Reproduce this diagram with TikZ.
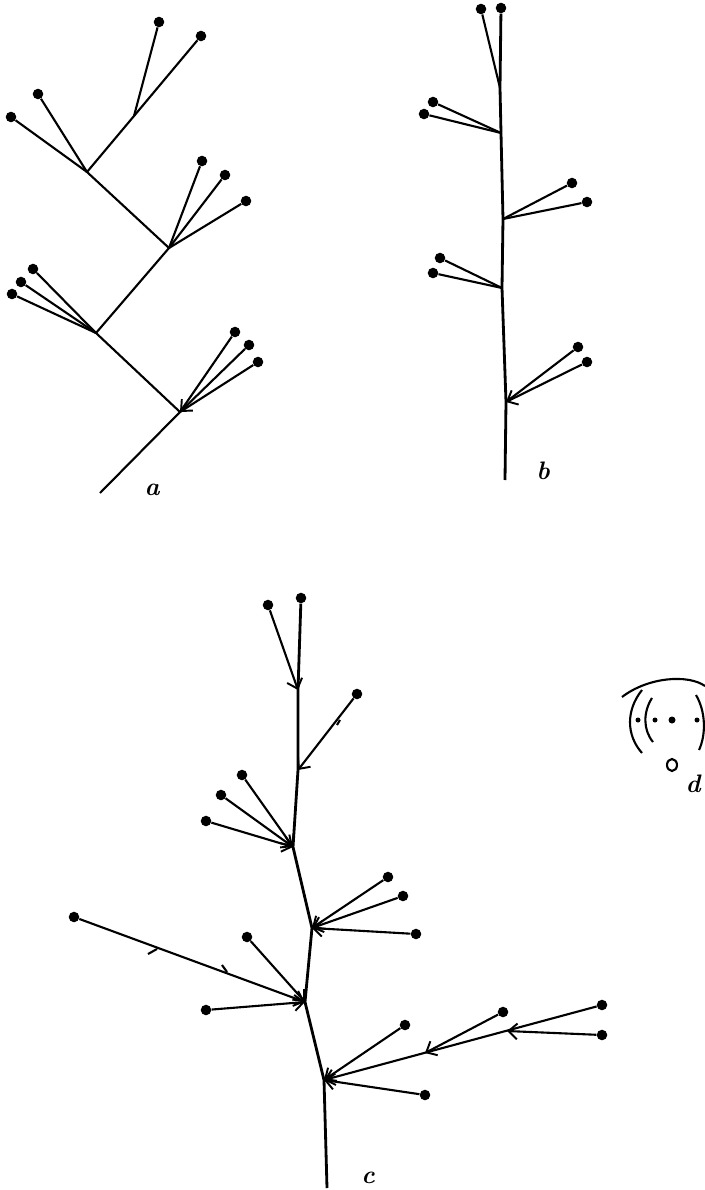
\documentclass[tikz,border=0pt]{standalone}
\usetikzlibrary{arrows.meta}
\tikzset{
  bud/.style={circle,fill,inner sep=0pt,minimum size=6pt},
  twig/.style={line width=1.2pt},
  stalk/.style={line width=1.6pt},
  barb/.style={twig,-{Straight Barb[length=5pt,width=9pt,line width=1.1pt]}},
  letter/.style={font=\Large\bfseries\itshape},
}
\begin{document}
\begin{tikzpicture}[x=0.02cm,y=-0.02cm]
    \useasboundingbox (0,0) rectangle (705,1190);
    % a
    \coordinate (a0) at (100,493);
    \coordinate (a1) at (180,412);
    \coordinate (a2) at (96,333);
    \coordinate (a3) at (169,248);
    \coordinate (a4) at (87,172);
    \coordinate (a5) at (134,116);
    \node[bud] (a51) at (159,22) {};
    \node[bud] (a52) at (201,36) {};
    \node[bud] (a41) at (38,94) {};
    \node[bud] (a42) at (11,117) {};
    \node[bud] (a31) at (202,161) {};
    \node[bud] (a32) at (225,175) {};
    \node[bud] (a33) at (246,201) {};
    \node[bud] (a21) at (33,269) {};
    \node[bud] (a22) at (21,282) {};
    \node[bud] (a23) at (12,294) {};
    \node[bud] (a11) at (235,332) {};
    \node[bud] (a12) at (249,345) {};
    \node[bud] (a13) at (258,362) {};
    \draw[twig] (a0) -- (a1) -- (a2) -- (a3) -- (a4) -- (a5) -- (a52);
    \draw[twig] (a51) -- (a5);
    \draw[twig] (a41) -- (a4);
    \draw[twig] (a42) -- (a4);
    \draw[twig] (a31) -- (a3);
    \draw[twig] (a32) -- (a3);
    \draw[twig] (a33) -- (a3);
    \draw[twig] (a21) -- (a2);
    \draw[twig] (a22) -- (a2);
    \draw[twig] (a23) -- (a2);
    \draw[twig] (a11) -- (a1);
    \draw[barb] (a12) -- (a1);
    \draw[twig] (a13) -- (a1);
    \node[letter] (la) at (152,490) {a};
    % b
    \coordinate (b0) at (505,480);
    \coordinate (b1) at (506,402);
    \coordinate (b2) at (502,288);
    \coordinate (b3) at (503,219);
    \coordinate (b4) at (501,133);
    \coordinate (b5) at (500,88);
    \node[bud] (b6) at (501,8) {};
    \node[bud] (b51) at (481,9) {};
    \node[bud] (b41) at (433,102) {};
    \node[bud] (b42) at (424,114) {};
    \node[bud] (b31) at (572,183) {};
    \node[bud] (b32) at (587,202) {};
    \node[bud] (b21) at (440,258) {};
    \node[bud] (b22) at (433,273) {};
    \node[bud] (b11) at (578,347) {};
    \node[bud] (b12) at (587,362) {};
    \draw[stalk] (b0) -- (b1) -- (b2) -- (b3) -- (b4) -- (b5) -- (b6);
    \draw[twig] (b51) -- (b5);
    \draw[twig] (b41) -- (b4);
    \draw[twig] (b42) -- (b4);
    \draw[twig] (b31) -- (b3);
    \draw[twig] (b32) -- (b3);
    \draw[twig] (b21) -- (b2);
    \draw[twig] (b22) -- (b2);
    \draw[twig] (b11) -- (b1);
    \draw[barb] (b12) -- (b1);
    \node[letter] (lb) at (543,471) {b};
    % c
    \coordinate (c0) at (327,1188);
    \coordinate (c1) at (324,1080);
    \coordinate (c2) at (305,1002);
    \coordinate (c3) at (312,928);
    \coordinate (c4) at (293,847);
    \coordinate (c5) at (298,770);
    \coordinate (c6) at (298,690);
    \coordinate (k1) at (507,1031);
    \coordinate (k2) at (425,1053);
    \node[bud] (c7) at (301,598) {};
    \node[bud] (c61) at (268,605) {};
    \node[bud] (c51) at (357,694) {};
    \node[bud] (c41) at (242,775) {};
    \node[bud] (c42) at (221,795) {};
    \node[bud] (c43) at (206,821) {};
    \node[bud] (c31) at (388,877) {};
    \node[bud] (c32) at (403,896) {};
    \node[bud] (c33) at (416,934) {};
    \node[bud] (c21) at (74,917) {};
    \node[bud] (c22) at (247,937) {};
    \node[bud] (c23) at (206,1010) {};
    \node[bud] (c11) at (405,1025) {};
    \node[bud] (c12) at (602,1005) {};
    \node[bud] (c13) at (425,1095) {};
    \node[bud] (c121) at (602,1035) {};
    \node[bud] (c122) at (503,1012) {};
    \draw[stalk] (c0) -- (c1) -- (c2) -- (c3) -- (c4) -- (c5) -- (c6) -- (c7);
    \draw[barb] (c61) -- (c6);
    \draw[barb] (c51) -- (c5);
    \draw[twig] (340,720) -- (337,725);
    \draw[barb] (c41) -- (c4);
    \draw[barb] (c42) -- (c4);
    \draw[barb] (c43) -- (c4);
    \draw[barb] (c31) -- (c3);
    \draw[barb] (c32) -- (c3);
    \draw[barb] (c33) -- (c3);
    \draw[barb] (c21) -- (c2);
    \draw[twig] (157,949) -- (148,954);
    \draw[twig] (222,965) -- (227,972);
    \draw[barb] (c22) -- (c2);
    \draw[barb] (c23) -- (c2);
    \draw[barb] (c11) -- (c1);
    \draw[barb] (c12) -- (c1);
    \draw[barb] (c13) -- (c1);
    \draw[barb] (c121) -- (k1);
    \draw[barb] (c122) -- (k2);
    \node[letter] (lc) at (368,1178) {c};
    % d
    \draw[twig] (622,697) .. controls (648,677) and (688,674) .. (705,686);
    \draw[twig] (642,690) .. controls (626,710) and (626,735) .. (642,753);
    \draw[twig] (652,698) .. controls (643,712) and (643,730) .. (653,742);
    \draw[twig] (696,695) .. controls (706,712) and (706,735) .. (699,750);
    \fill (638,720) circle (2.5);
    \fill (655,720) circle (2.5);
    \fill (672,720) circle (3.5);
    \fill (697,720) circle (2.5);
    \draw[twig] (672,765) ellipse (5 and 6);
    \node[letter] (ld) at (693,784) {d};
\end{tikzpicture}
\end{document}
